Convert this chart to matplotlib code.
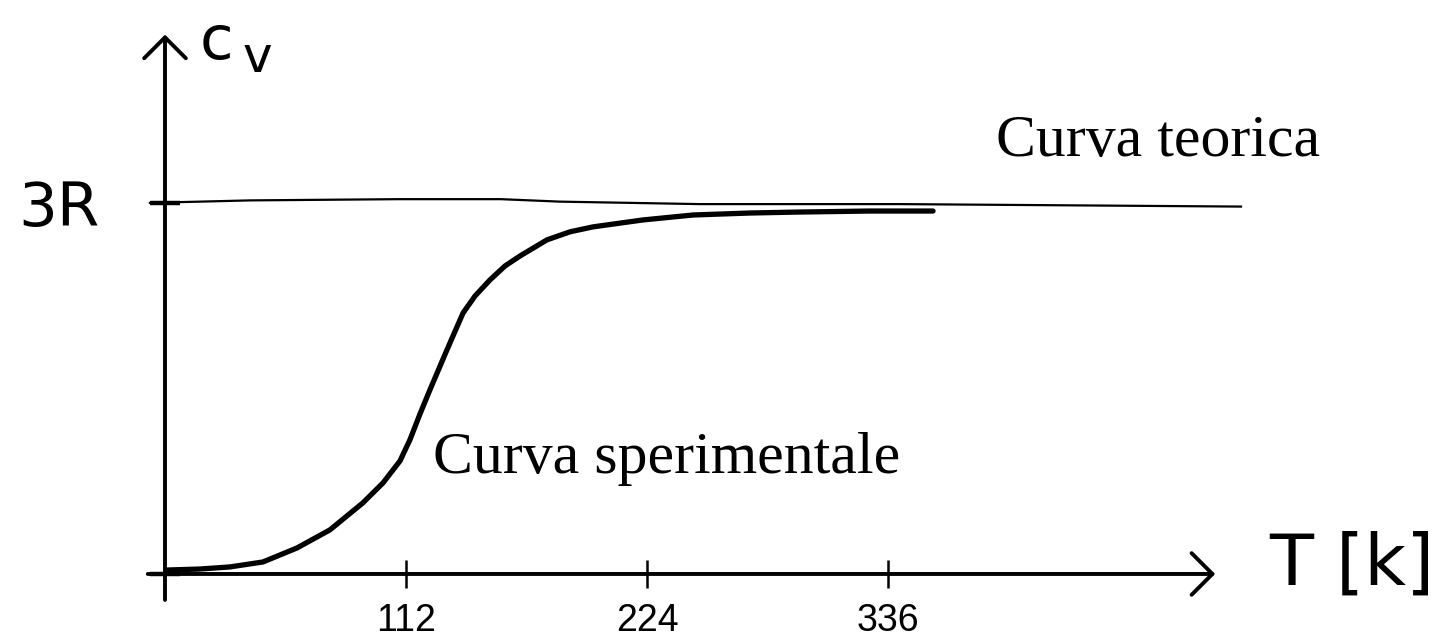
import matplotlib
matplotlib.use("Agg")
import matplotlib.pyplot as plt

# curva sperimentale (T in K, c_v in unita' di R)
T_exp = [0.9, 16.3, 30.2, 45.5, 61.3, 76.6, 91.9, 101.3, 109.2, 113.8, 118.5, 123.1, 131.0,
         138.5, 144.1, 151.0, 158.0, 165.0, 177.5, 188.2, 198.9, 222.1, 245.4, 271.8, 295.1,
         327.6, 356.9]
cv_exp = [0.032, 0.040, 0.057, 0.097, 0.210, 0.356, 0.574, 0.736, 0.914, 1.084, 1.294, 1.488,
          1.811, 2.110, 2.248, 2.377, 2.490, 2.571, 2.701, 2.766, 2.806, 2.862, 2.902, 2.918,
          2.926, 2.934, 2.934]

# curva teorica (Dulong-Petit, tracciata a mano)
T_teo = [-7, 39.5, 109, 156, 183.5, 248.6, 341.5, 500]
cv_teo = [3.0, 3.02, 3.03, 3.03, 3.01, 2.99, 2.99, 2.97]

x_ticks = [112, 224, 336]
x_labels = ["112", "224", "336"]
y_ticks = [0, 3]
y_labels = ["", "3R"]

fig = plt.figure(figsize=(14.49, 6.43), dpi=100)
ax = fig.add_axes([0, 0, 1, 1])
ax.set_xlim(-76.67, 596.65)
ax.set_ylim(-0.558, 4.640)

for s in ax.spines.values():
    s.set_visible(False)
ax.spines["left"].set_position(("data", 0))
ax.spines["bottom"].set_position(("data", 0))

# assi con frecce
arrow = dict(arrowstyle="->,head_length=0.75,head_width=0.75", lw=2.8, color="black",
             mutation_scale=20, shrinkA=0, shrinkB=0)
ax.annotate("", xy=(488, 0), xytext=(-8, 0), arrowprops=arrow)
ax.annotate("", xy=(0, 4.36), xytext=(0, -0.21), arrowprops=arrow)

ax.plot(T_teo, cv_teo, color="black", lw=1.6)
ax.plot(T_exp, cv_exp, color="black", lw=3.8, solid_capstyle="round", solid_joinstyle="round")

ax.set_xticks(x_ticks)
ax.set_xticklabels(x_labels, family="Liberation Sans", fontsize=27)
ax.set_yticks(y_ticks)
ax.set_yticklabels(y_labels, family="DejaVu Sans", fontsize=44)
ax.tick_params(axis="x", direction="inout", length=20, width=1.8, pad=11)
ax.tick_params(axis="y", direction="inout", length=22, width=3.2, pad=36)

ax.text(386.2, 3.38, "Curva teorica", family="Liberation Serif", fontsize=43,
        ha="left", va="baseline")
ax.text(124.5, 0.82, "Curva sperimentale", family="Liberation Serif", fontsize=43,
        ha="left", va="baseline")

ax.text(16, 4.30, "c", family="DejaVu Sans", fontsize=44, ha="left", va="center")
ax.text(36, 4.17, "v", family="DejaVu Sans", fontsize=36, ha="left", va="center")
ax.text(513, 0.07, "T [k]", family="DejaVu Sans", fontsize=52, ha="left", va="center")

fig.savefig("out.png", dpi=100)
